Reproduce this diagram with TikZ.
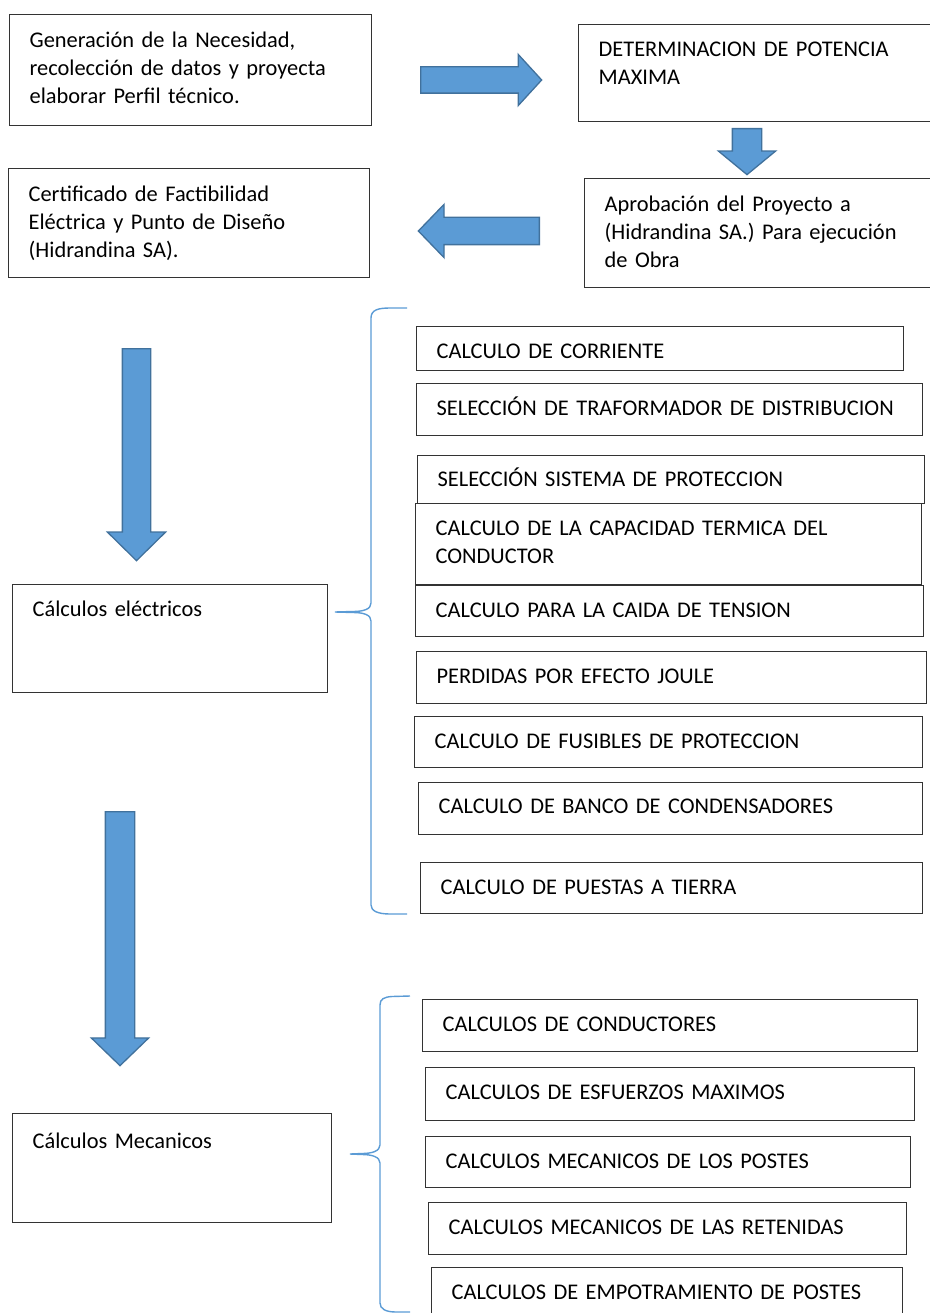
\documentclass[tikz,border=0pt]{standalone}
\usepackage{fontspec}
\setmainfont{Carlito}
\usetikzlibrary{shapes.arrows}
\definecolor{proyblue}{HTML}{5B9BD5}
\definecolor{proyedge}{HTML}{41719C}
\tikzset{
  proy box/.style={
    draw=black!80,
    line width=1.3pt,
    fill=white,
    align=left,
    anchor=north west,
    inner xsep=20pt,
    inner ysep=0pt,
    text height=32pt,
  },
  proy arrow/.style={
    single arrow,
    draw=proyedge,
    line width=1.3pt,
    fill=proyblue,
    inner xsep=0pt,
    anchor=tail,
  },
  proy down/.style={
    proy arrow,
    shape border rotate=270,
    inner ysep=0pt,
  },
  proy brace/.style={draw=proyblue, line width=1.4pt},
}

\begin{document}
\begin{tikzpicture}[x=1pt, y=-1pt, font=\fontsize{22.4}{28}\selectfont]
  \useasboundingbox (0,0) rectangle (929,1313);

  % --- Tramite inicial ---
  \node[proy box, text width=322pt, text height=33pt, text depth=78pt]
    (necesidad) at (9,14)
    {Generación de la Necesidad,\\recolección de datos y proyecta\\elaborar Perfil técnico.};
  \node[proy box, text width=313pt, text depth=65pt]
    (potencia) at (578,24) {DETERMINACION DE POTENCIA\\MAXIMA};
  \node[proy box, text width=307pt, text height=33pt, text depth=76pt]
    (aprobacion) at (584,178)
    {Aprobación del Proyecto a\\(Hidrandina SA.) Para ejecución\\de Obra};
  \node[proy box, text width=321pt, text height=33pt, text depth=76pt]
    (certificado) at (8,168)
    {Certificado de Factibilidad\\Eléctrica y Punto de Diseño\\(Hidrandina SA).};

  % block arrows between the steps
  \node[proy arrow, minimum height=121pt, inner ysep=12.5pt,
        single arrow head extend=12.5pt, single arrow tip angle=95]
    (flechaA) at (420,80) {};
  \node[proy down, minimum height=46pt, inner xsep=14pt,
        single arrow head extend=14pt, single arrow tip angle=101]
    (flechaB) at (747,128) {};
  \node[proy arrow, shape border rotate=180, minimum height=121pt, inner ysep=13pt,
        single arrow head extend=13pt, single arrow tip angle=92]
    (flechaC) at (540,231) {};

  % --- Calculos electricos ---
  \node[proy box, text width=275pt, text depth=76pt]
    (electricos) at (12,584) {Cálculos eléctricos};
  \node[proy down, minimum height=212pt, inner xsep=13.5pt,
        single arrow head extend=15pt, single arrow tip angle=91]
    (flechaD) at (136.5,348) {};

  \node[proy box, text width=447pt, text depth=12pt] (corriente) at (416,326) {CALCULO DE CORRIENTE};
  \node[proy box, text width=466pt, text depth=20pt] (trafo) at (416,383) {SELECCIÓN DE TRAFORMADOR DE DISTRIBUCION};
  \node[proy box, text width=467pt, text height=31pt, text depth=17pt] (proteccion) at (417,455) {SELECCIÓN SISTEMA DE PROTECCION};
  \node[proy box, text width=466pt, text depth=49pt] (capacidad) at (415,503) {CALCULO DE LA CAPACIDAD TERMICA DEL\\CONDUCTOR};
  \node[proy box, text width=468pt, text depth=19pt] (caida) at (415,585) {CALCULO PARA LA CAIDA DE TENSION};
  \node[proy box, text width=470pt, text depth=20pt] (joule) at (416,651) {PERDIDAS POR EFECTO JOULE};
  \node[proy box, text width=468pt, text depth=19pt] (fusibles) at (414,716) {CALCULO DE FUSIBLES DE PROTECCION};
  \node[proy box, text width=464pt, text height=31pt, text depth=21pt] (banco) at (418,782) {CALCULO DE BANCO DE CONDENSADORES};
  \node[proy box, text width=462pt, text depth=19pt] (tierra) at (420,862) {CALCULO DE PUESTAS A TIERRA};

  % brace grouping the electrical items
  \draw[proy brace] (407,308) -- (390,308) .. controls (378,308) and (371,310) .. (371,318)
    -- (371,603) .. controls (371,609) and (364,611.5) .. (353,611.5) -- (335,612)
    -- (353,612.5) .. controls (364,612.5) and (371,615) .. (371,621)
    -- (371,905) .. controls (371,911) and (378,914) .. (390,914) -- (407,914);

  % --- Calculos mecanicos ---
  \node[proy box, text width=279pt, text height=35pt, text depth=74pt]
    (mecanicos) at (12,1113) {Cálculos Mecanicos};
  \node[proy down, minimum height=254pt, inner xsep=14pt,
        single arrow head extend=14pt, single arrow tip angle=92]
    (flechaE) at (120,811) {};

  \node[proy box, text width=455pt, text depth=20pt] (conductores) at (422,999) {CALCULOS DE CONDUCTORES};
  \node[proy box, text width=449pt, text depth=21pt] (esfuerzos) at (425,1067) {CALCULOS DE ESFUERZOS MAXIMOS};
  \node[proy box, text width=445pt, text depth=19pt] (postes) at (425,1136) {CALCULOS MECANICOS DE LOS POSTES};
  \node[proy box, text width=438pt, text depth=20pt] (retenidas) at (428,1202) {CALCULOS MECANICOS DE LAS RETENIDAS};
  \node[proy box, text width=431pt, text depth=40pt] (empotramiento) at (431,1267) {CALCULOS DE EMPOTRAMIENTO DE POSTES};

  % brace grouping the mechanical items
  \draw[proy brace] (410,996) -- (392,996.5) .. controls (384,997) and (380,999) .. (380,1005)
    -- (380,1145) .. controls (380,1151) and (372,1153.5) .. (362,1153.5) -- (350,1154)
    -- (362,1154.5) .. controls (372,1154.5) and (380,1157) .. (380,1163)
    -- (380,1303) .. controls (380,1309) and (386,1312) .. (396,1312) -- (410,1312);

\end{tikzpicture}
\end{document}
